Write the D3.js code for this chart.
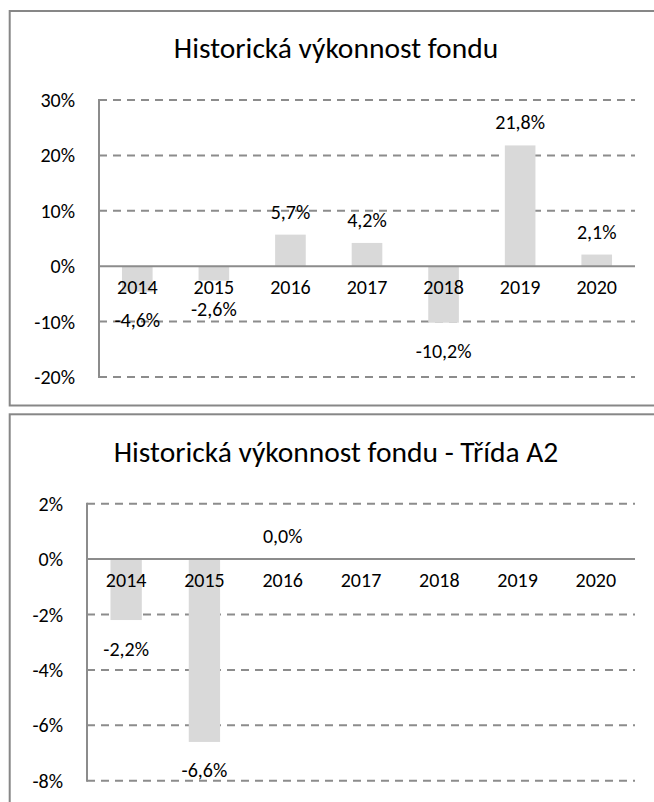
<html>

<head>
    <style>
        body {
            margin: 0;
            background: #fff;
        }

        svg text {
            font-family: Carlito, Calibri, Lato, sans-serif;
            fill: #000;
        }

        .grid {
            stroke: #8c8c8c;
            stroke-width: 2;
            stroke-dasharray: 8 6;
        }

        .axis {
            stroke: #8c8c8c;
            stroke-width: 2;
        }

        .frame {
            fill: none;
            stroke: #878787;
            stroke-width: 2;
        }
    </style>
</head>

<body>
    <svg id="container" height="802" width="654"></svg>
</body>
<script src="https://cdn.jsdelivr.net/npm/d3@7"></script>
<script>
    let years = ["2014", "2015", "2016", "2017", "2018", "2019", "2020"]
    let fundReturns = [-4.6, -2.6, 5.7, 4.2, -10.2, 21.8, 2.1]
    let classA2Returns = [-2.2, -6.6, 0.0, null, null, null, null]
    let fundTicks = [30, 20, 10, 0, -10, -20]
    let classA2Ticks = [2, 0, -2, -4, -6, -8]

    let svg = d3.select("#container")
    let czech = d3.formatLocale({ decimal: ",", thousands: " ", grouping: [3], currency: ["", " Kč"], minus: "-" })
    let fmtValue = v => czech.format(".1f")(v) + "%"
    let fmtTick = v => czech.format("d")(v) + "%"

    // chart frames
    svg.append("rect").attr("class", "frame")
        .attr("x", 9.7).attr("y", 11).attr("width", 700).attr("height", 394.5)
    svg.append("rect").attr("class", "frame")
        .attr("x", 9.7).attr("y", 414.3).attr("width", 700).attr("height", 500)

    drawChart({
        title: "Historická výkonnost fondu",
        titleY: 57.5,
        values: fundReturns,
        ticks: fundTicks,
        left: 99, right: 635,
        top: 100, bottom: 377
    })

    drawChart({
        title: "Historická výkonnost fondu - Třída A2",
        titleY: 462,
        values: classA2Returns,
        ticks: classA2Ticks,
        left: 87, right: 635,
        top: 503.7, bottom: 780.7
    })

    function drawChart(c) {
        let g = svg.append("g")
        let data = years.map((y, i) => ({ year: y, value: c.values[i] }))

        let x = d3.scaleBand()
            .domain(years)
            .range([c.left, c.right])
            .paddingInner(0.6)
            .paddingOuter(0.3)

        let y = d3.scaleLinear()
            .domain([d3.min(c.ticks), d3.max(c.ticks)])
            .range([c.bottom, c.top])

        g.append("text")
            .attr("x", 336)
            .attr("y", c.titleY)
            .attr("text-anchor", "middle")
            .style("font-size", "29.5px")
            .text(c.title)

        // dashed gridlines
        g.selectAll(".grid")
            .data(c.ticks.filter(t => t != 0))
            .enter().append("line")
            .attr("class", "grid")
            .attr("x1", c.left).attr("x2", c.right)
            .attr("y1", d => y(d)).attr("y2", d => y(d))

        // tick labels
        g.selectAll(".tick")
            .data(c.ticks)
            .enter().append("text")
            .attr("x", c.left - 24)
            .attr("y", d => y(d))
            .attr("dy", "0.35em")
            .attr("text-anchor", "end")
            .style("font-size", "20px")
            .text(fmtTick)

        // bars
        let valid = data.filter(d => d.value !== null)
        g.selectAll(".bar")
            .data(valid)
            .enter().append("rect")
            .attr("x", d => x(d.year))
            .attr("width", x.bandwidth())
            .attr("y", d => y(Math.max(0, d.value)))
            .attr("height", d => Math.abs(y(d.value) - y(0)))
            .style("fill", "#d9d9d9")

        // axes
        g.append("line").attr("class", "axis")
            .attr("x1", c.left).attr("x2", c.left)
            .attr("y1", y(d3.max(c.ticks)) - 1).attr("y2", y(d3.min(c.ticks)) + 1)
        g.append("line").attr("class", "axis")
            .attr("x1", c.left).attr("x2", c.right)
            .attr("y1", y(0)).attr("y2", y(0))

        // category labels
        g.selectAll(".cat")
            .data(years)
            .enter().append("text")
            .attr("x", d => x(d) + x.bandwidth() / 2)
            .attr("y", y(0) + 21)
            .attr("dy", "0.35em")
            .attr("text-anchor", "middle")
            .style("font-size", "20px")
            .text(d => d)

        // value labels
        g.selectAll(".val")
            .data(valid)
            .enter().append("text")
            .attr("x", d => x(d.year) + x.bandwidth() / 2)
            .attr("y", d => d.value >= 0 ? y(d.value) - 23 : y(d.value) + 28.5)
            .attr("dy", "0.35em")
            .attr("text-anchor", "middle")
            .style("font-size", "20px")
            .text(d => fmtValue(d.value))
    }
</script>

</html>
